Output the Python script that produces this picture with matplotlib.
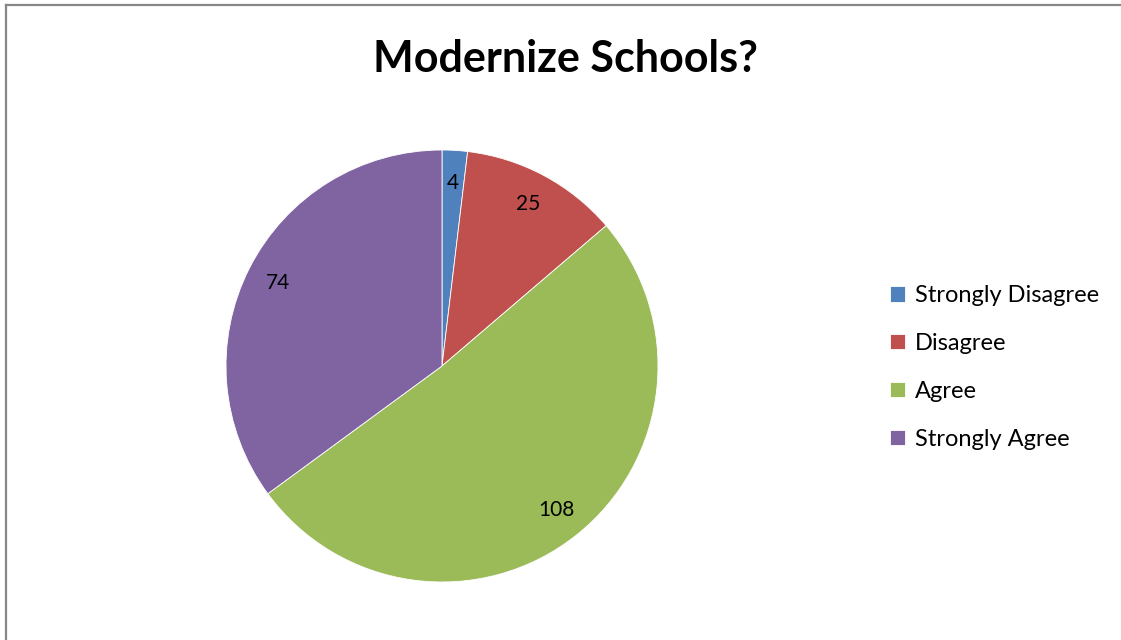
import matplotlib
matplotlib.use("Agg")
import matplotlib.pyplot as plt
from matplotlib.lines import Line2D

categories = ["Strongly Disagree", "Disagree", "Agree", "Strongly Agree"]
values = [4, 25, 108, 74]
colors = ["#4F81BD", "#C0504D", "#9BBB59", "#8064A2"]
title = "Modernize Schools?"

plt.rcParams['font.family'] = ['Lato', 'DejaVu Sans']

W, H = 1121, 640
fig = plt.figure(figsize=(W / 100, H / 100), dpi=100)
fig.patch.set_facecolor("white")

# chart frame (only top and left visible)
fig.add_artist(Line2D([6 / W, 6 / W], [0, 1 - 5 / H], transform=fig.transFigure,
                      color="#878787", lw=1.6))
fig.add_artist(Line2D([6 / W, 1], [1 - 5 / H, 1 - 5 / H], transform=fig.transFigure,
                      color="#878787", lw=1.6))

cx, cy, r = 442, 366, 216
ax = fig.add_axes([(cx - r) / W, (H - cy - r) / H, 2 * r / W, 2 * r / H])
wedges, texts = ax.pie(values, colors=colors, labels=[str(v) for v in values],
                       startangle=90, counterclock=False, labeldistance=0.85,
                       wedgeprops=dict(edgecolor="white", linewidth=0.6),
                       textprops=dict(fontsize=15, color="black"))
for t in texts:
    t.set_ha("center")
    t.set_va("center")
ax.set_xlim(-1, 1)
ax.set_ylim(-1, 1)
ax.set_aspect("equal")
ax.axis("off")

fig.text(565 / W, 1 - 72 / H, title, ha="center", va="baseline",
         fontsize=31, fontweight="bold", color="black")

leg = fig.legend(wedges, categories, loc="upper left",
                 bbox_to_anchor=(890 / W, 1 - 285 / H), frameon=False,
                 fontsize=17, handlelength=0.64, handleheight=0.64,
                 handletextpad=0.4, labelspacing=1.14, borderaxespad=0,
                 borderpad=0)

fig.savefig("out.png", dpi=100, facecolor="white")
